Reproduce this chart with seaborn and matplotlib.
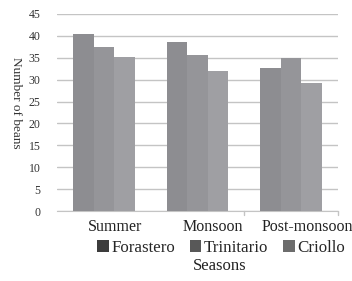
import matplotlib
matplotlib.use("Agg")
import matplotlib.pyplot as plt
from matplotlib.patches import Patch
from matplotlib.transforms import ScaledTranslation
import pandas as pd
import seaborn as sns

# bean counts per season and variety
seasons = ["Summer", "Monsoon", "Post-monsoon"]
varieties = ["Forastero", "Trinitario", "Criollo"]
forastero = [40.4, 38.6, 32.7]
trinitario = [37.5, 35.6, 34.9]
criollo = [35.1, 32.0, 29.2]

bar_colors = ["#8d8d91", "#959599", "#9f9fa3"]
legend_colors = ["#3c3c3c", "#585858", "#6c6c6c"]

df = pd.DataFrame({
    "Season": seasons * 3,
    "Variety": [v for v in varieties for _ in seasons],
    "Beans": forastero + trinitario + criollo,
})

sns.set_style("white")
plt.rcParams["font.family"] = ["Liberation Serif", "DejaVu Serif"]

fig = plt.figure(figsize=(3.52, 2.81), dpi=100)
ax = fig.add_axes([57 / 352, 1 - 211 / 281, 281 / 352, 197 / 281])

sns.barplot(data=df, x="Season", y="Beans", hue="Variety", palette=bar_colors,
            width=0.66, gap=0, saturation=1, ax=ax, legend=False, zorder=3,
            linewidth=0, edgecolor="none")

ax.set_ylim(0, 45)
ax.set_yticks(range(0, 46, 5))
ax.set_xlim(-0.5, 2.5)
ax.yaxis.grid(True, color="#c4c4c4", linewidth=1.0, zorder=0)
ax.set_axisbelow(True)
for side in ["left", "right", "top"]:
    ax.spines[side].set_visible(False)
ax.spines["bottom"].set_color("#c4c4c4")
ax.tick_params(axis="y", length=0, labelsize=8.5, colors="#333333", pad=12)
ax.set_xticks([0, 1, 2])
ax.set_xticklabels(seasons, fontsize=11.5, color="#222222")
ax.tick_params(axis="x", length=0, pad=6)
# the category labels sit a bit right of their bar groups
for lbl, dx in zip(ax.get_xticklabels(), [11, 15, 16]):
    lbl.set_transform(lbl.get_transform() + ScaledTranslation(dx / 100, 0, fig.dpi_scale_trans))
for xb in [1.5, 2.5]:
    ax.plot([xb, xb], [0, -1.0], color="#c4c4c4", lw=1, clip_on=False)

ax.set_xlabel("")
ax.set_ylabel("")
fig.text(16 / 352, 1 - 103 / 281, "Number of beans", rotation=270, ha="center", va="center",
         fontsize=9.5, color="#333333")

handles = [Patch(facecolor=c, edgecolor="none") for c in legend_colors]
fig.legend(handles, varieties, loc="center", bbox_to_anchor=(221 / 352, 1 - 248 / 281),
           ncol=3, frameon=False, fontsize=12.2, handlelength=0.7, handleheight=0.7,
           handletextpad=0.15, columnspacing=0.85, borderpad=0)
fig.text(220 / 352, 1 - 266 / 281, "Seasons", ha="center", va="center", fontsize=12, color="#222222")

fig.savefig("out.png", dpi=100)
